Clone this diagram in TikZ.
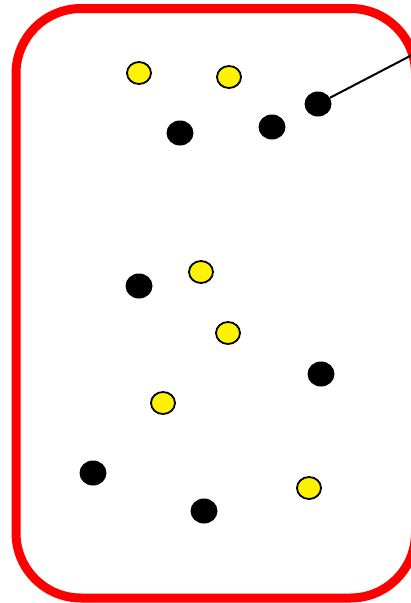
\documentclass[tikz,border=0pt]{standalone}
\usepackage{tikz}
\usetikzlibrary{shapes.geometric}

\tikzset{
  cell/.style={draw=red, line width=9pt, rounded corners=65pt},
  yel/.style={ellipse, draw=black, line width=1.8pt, fill=yellow, minimum width=24pt, minimum height=22pt, inner sep=0pt},
  blk/.style={ellipse, fill=black, minimum width=27pt, minimum height=25pt, inner sep=0pt},
}

\begin{document}
\begin{tikzpicture}[x=1pt, y=-1pt]
  \useasboundingbox (0,0) rectangle (411,603);
  \draw[cell] (16,8.5) rectangle (415.5,598);

  \node[yel] (y1) at (139,73)  {};
  \node[yel] (y2) at (229,77)  {};
  \node[yel] (y3) at (201,272) {};
  \node[yel] (y4) at (228,333) {};
  \node[yel] (y5) at (163,403) {};
  \node[yel] (y6) at (309,488) {};

  \node[blk] (b1) at (180,133) {};
  \node[blk] (b2) at (272,127) {};
  \node[blk] (b3) at (318,104) {};
  \node[blk] (b4) at (139,286) {};
  \node[blk] (b5) at (321,374) {};
  \node[blk] (b6) at (93,473)  {};
  \node[blk] (b7) at (204,511) {};

  \coordinate (tip) at (412,55);
  \draw[line width=2pt] (b3) -- (tip);
\end{tikzpicture}
\end{document}
